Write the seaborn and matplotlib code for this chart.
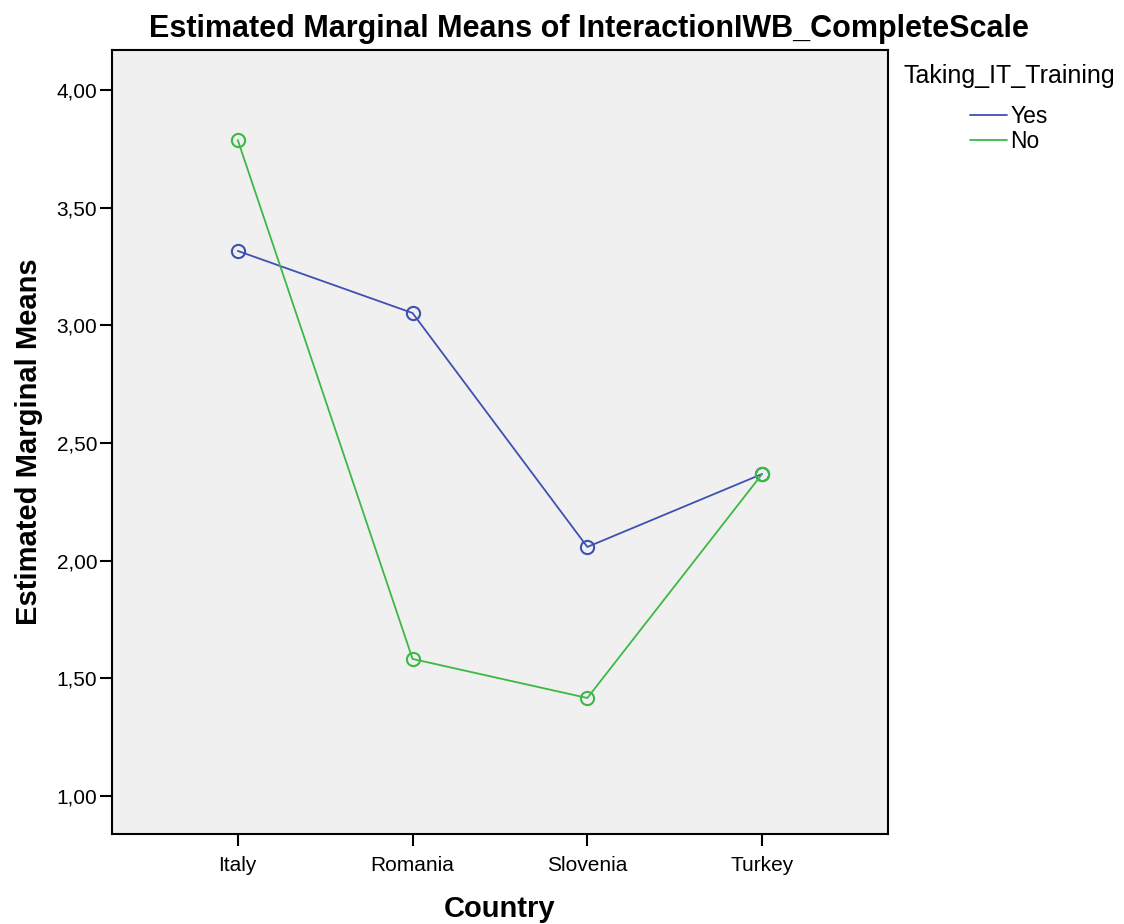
import pandas as pd
import matplotlib.pyplot as plt
import seaborn as sns

# === Data ===
countries = ["Italy", "Romania", "Slovenia", "Turkey"]
yes_means = [3.316, 3.052, 2.058, 2.368]
no_means = [3.787, 1.582, 1.416, 2.368]
groups = ["Yes", "No"]

df = pd.DataFrame({
    "Country": countries * 2,
    "Mean": yes_means + no_means,
    "Taking_IT_Training": ["Yes"] * len(countries) + ["No"] * len(countries),
})

# === Style ===
sns.set_style("white")
plt.rcParams["font.family"] = ["Liberation Sans", "DejaVu Sans"]
plt.rcParams["text.color"] = "black"
plt.rcParams["axes.labelcolor"] = "black"
plt.rcParams["xtick.color"] = "black"
plt.rcParams["ytick.color"] = "black"
palette = {"Yes": "#3F51B0", "No": "#3CB944"}

fig = plt.figure(figsize=(11.24, 9.24), dpi=100)
ax = fig.add_axes([0.0996, 0.0974, 0.6904, 0.8485])
ax.set_facecolor("#F0F0F0")

sns.pointplot(
    data=df, x="Country", y="Mean", hue="Taking_IT_Training",
    hue_order=groups, order=countries, palette=palette,
    markers="o", linestyles="-", ax=ax,
    markersize=9.5, linewidth=1.3,
    legend=False,
)
# hollow markers
for coll in ax.collections:
    coll.set_facecolor("none")
    coll.set_linewidth(1.5)
for line in ax.lines:
    line.set_markerfacecolor("none")
    line.set_markeredgewidth(1.5)

ax.set_xlim(-0.72, 3.72)
ax.set_ylim(0.838, 4.17)
ax.set_yticks([1.0, 1.5, 2.0, 2.5, 3.0, 3.5, 4.0])
ax.set_yticklabels([f"{v:.2f}".replace(".", ",") for v in ax.get_yticks()])

for s in ax.spines.values():
    s.set_visible(True)
    s.set_color("black")
    s.set_linewidth(1.5)

ax.tick_params(axis="both", direction="out", length=8.5, width=1.5,
               labelsize=15, colors="black", left=True, bottom=True)
ax.tick_params(axis="x", pad=7)
ax.tick_params(axis="y", pad=2)

ax.set_xlabel("Country", fontsize=21, fontweight="bold", labelpad=15)
ax.set_ylabel("Estimated Marginal Means", fontsize=21, fontweight="bold", labelpad=10)
ax.set_title("Estimated Marginal Means of InteractionIWB_CompleteScale",
             fontsize=22, fontweight="bold", pad=9, x=0.615)

# === Legend ===
handles = [plt.Line2D([0], [0], color=palette[g], lw=1.3) for g in groups]
leg = fig.legend(handles, groups, title="Taking_IT_Training",
                 loc="upper center", bbox_to_anchor=(1009 / 1124, 1 - 64 / 924),
                 frameon=False, fontsize=16.5, title_fontsize=18,
                 handlelength=1.6, handletextpad=0.15, labelspacing=0.1,
                 borderaxespad=0, borderpad=0)
leg._legend_box.align = "center"
leg._legend_box.sep = 12

plt.savefig("out.png", dpi=100)
plt.close()
